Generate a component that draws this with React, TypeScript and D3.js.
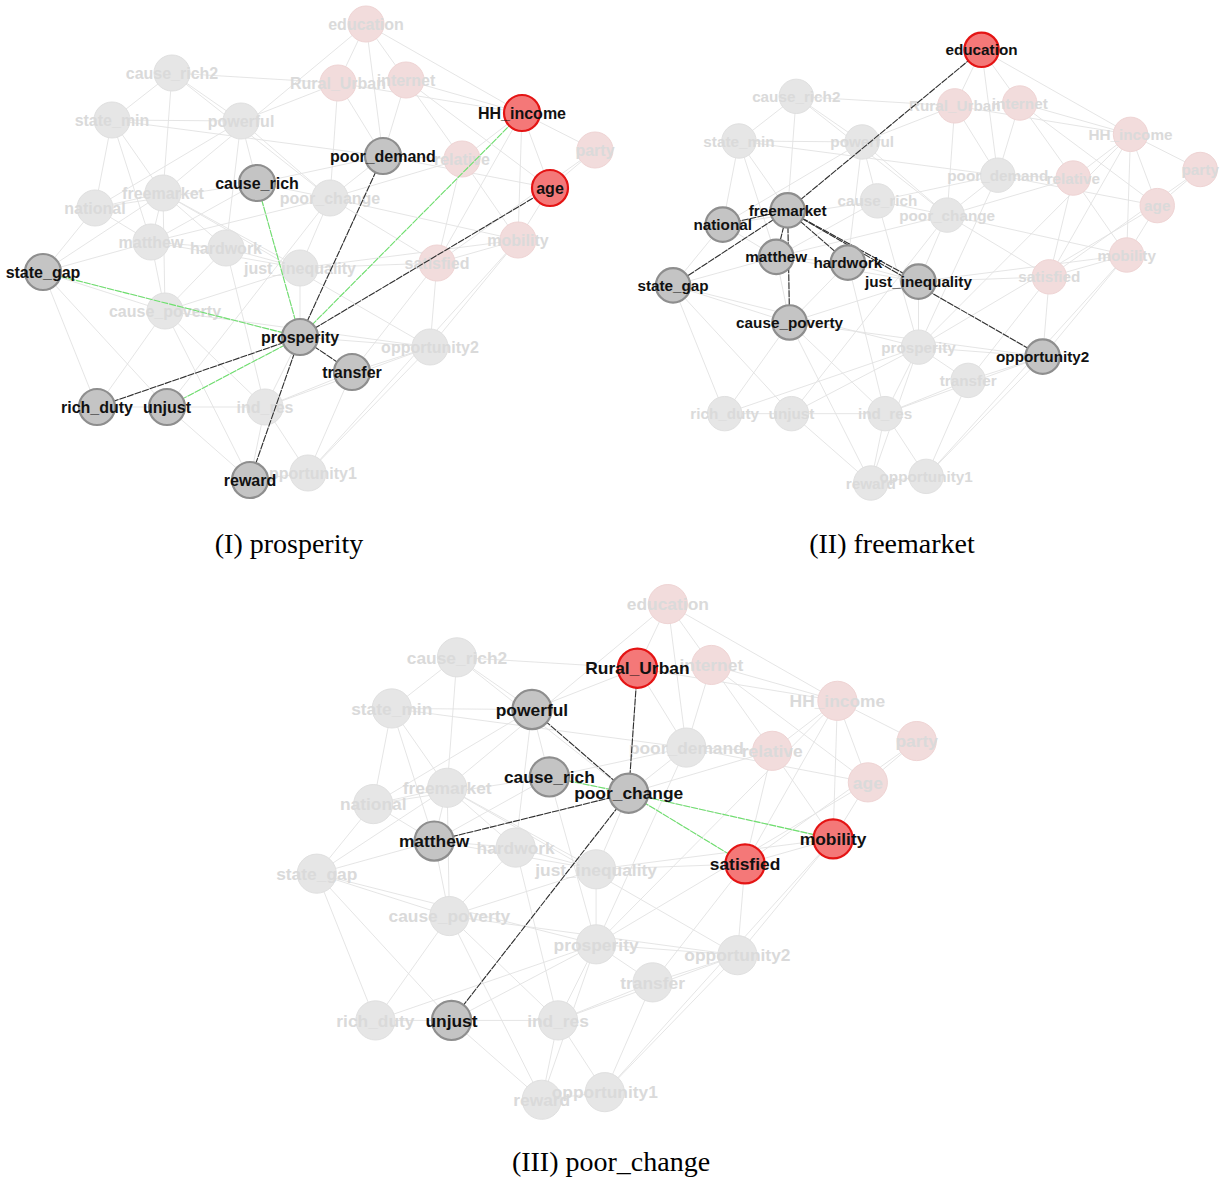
import { useRef, useEffect } from 'react'
import * as d3 from 'd3'

interface NodeDatum {
  id: string
  x: number
  y: number
  group: 'red' | 'gray'
}

// layout coordinates (units of panel I)
const nodes: NodeDatum[] = [
  { id: 'education', x: 366, y: 24, group: 'red' },
  { id: 'cause_rich2', x: 172, y: 73, group: 'gray' },
  { id: 'Rural_Urban', x: 338, y: 83, group: 'red' },
  { id: 'internet', x: 406, y: 80, group: 'red' },
  { id: 'state_min', x: 112, y: 120, group: 'gray' },
  { id: 'powerful', x: 241, y: 121, group: 'gray' },
  { id: 'HH_income', x: 522, y: 113, group: 'red' },
  { id: 'poor_demand', x: 383, y: 156, group: 'gray' },
  { id: 'relative', x: 462, y: 159, group: 'red' },
  { id: 'party', x: 595, y: 150, group: 'red' },
  { id: 'age', x: 550, y: 188, group: 'red' },
  { id: 'cause_rich', x: 257, y: 183, group: 'gray' },
  { id: 'freemarket', x: 163, y: 193, group: 'gray' },
  { id: 'poor_change', x: 330, y: 198, group: 'gray' },
  { id: 'national', x: 95, y: 208, group: 'gray' },
  { id: 'matthew', x: 151, y: 242, group: 'gray' },
  { id: 'hardwork', x: 226, y: 248, group: 'gray' },
  { id: 'mobility', x: 518, y: 240, group: 'red' },
  { id: 'just_inequality', x: 300, y: 268, group: 'gray' },
  { id: 'satisfied', x: 437, y: 263, group: 'red' },
  { id: 'state_gap', x: 43, y: 272, group: 'gray' },
  { id: 'cause_poverty', x: 165, y: 311, group: 'gray' },
  { id: 'prosperity', x: 300, y: 337, group: 'gray' },
  { id: 'opportunity2', x: 430, y: 347, group: 'gray' },
  { id: 'transfer', x: 352, y: 372, group: 'gray' },
  { id: 'rich_duty', x: 97, y: 407, group: 'gray' },
  { id: 'unjust', x: 167, y: 407, group: 'gray' },
  { id: 'ind_res', x: 265, y: 407, group: 'gray' },
  { id: 'reward', x: 250, y: 480, group: 'gray' },
  { id: 'opportunity1', x: 308, y: 473, group: 'gray' },
]

const edges: [string, string][] = [
  ['education', 'Rural_Urban'], ['education', 'internet'], ['education', 'HH_income'],
  ['education', 'freemarket'], ['education', 'poor_demand'], ['cause_rich2', 'Rural_Urban'],
  ['cause_rich2', 'state_min'], ['cause_rich2', 'powerful'], ['cause_rich2', 'freemarket'],
  ['cause_rich2', 'poor_change'], ['state_min', 'powerful'], ['state_min', 'national'],
  ['state_min', 'freemarket'], ['state_min', 'matthew'], ['state_min', 'poor_demand'],
  ['powerful', 'Rural_Urban'], ['powerful', 'cause_rich'], ['powerful', 'hardwork'],
  ['powerful', 'poor_change'], ['powerful', 'national'], ['Rural_Urban', 'HH_income'],
  ['Rural_Urban', 'poor_demand'], ['Rural_Urban', 'poor_change'], ['internet', 'HH_income'],
  ['internet', 'poor_demand'], ['internet', 'relative'], ['internet', 'age'],
  ['HH_income', 'party'], ['HH_income', 'age'], ['HH_income', 'relative'],
  ['HH_income', 'mobility'], ['HH_income', 'prosperity'], ['HH_income', 'satisfied'],
  ['party', 'age'], ['party', 'satisfied'], ['age', 'mobility'], ['age', 'prosperity'],
  ['age', 'poor_demand'], ['relative', 'satisfied'], ['relative', 'mobility'],
  ['relative', 'poor_demand'], ['relative', 'poor_change'], ['poor_demand', 'poor_change'],
  ['poor_demand', 'prosperity'], ['poor_demand', 'cause_rich'], ['cause_rich', 'poor_change'],
  ['cause_rich', 'prosperity'], ['cause_rich', 'national'], ['cause_rich', 'matthew'],
  ['poor_change', 'just_inequality'], ['poor_change', 'matthew'], ['poor_change', 'unjust'],
  ['poor_change', 'satisfied'], ['poor_change', 'mobility'], ['freemarket', 'national'],
  ['freemarket', 'matthew'], ['freemarket', 'hardwork'], ['freemarket', 'just_inequality'],
  ['freemarket', 'state_gap'], ['freemarket', 'cause_poverty'], ['freemarket', 'opportunity2'],
  ['national', 'matthew'], ['national', 'state_gap'], ['matthew', 'hardwork'],
  ['matthew', 'state_gap'], ['matthew', 'cause_poverty'], ['matthew', 'just_inequality'],
  ['hardwork', 'just_inequality'], ['hardwork', 'cause_poverty'], ['hardwork', 'ind_res'],
  ['just_inequality', 'satisfied'], ['just_inequality', 'cause_poverty'],
  ['just_inequality', 'prosperity'], ['just_inequality', 'mobility'],
  ['satisfied', 'opportunity2'], ['satisfied', 'mobility'], ['satisfied', 'transfer'],
  ['mobility', 'opportunity2'], ['mobility', 'opportunity1'], ['state_gap', 'cause_poverty'],
  ['state_gap', 'prosperity'], ['state_gap', 'rich_duty'], ['state_gap', 'unjust'],
  ['cause_poverty', 'rich_duty'], ['cause_poverty', 'ind_res'], ['cause_poverty', 'opportunity2'],
  ['cause_poverty', 'reward'], ['prosperity', 'transfer'], ['prosperity', 'ind_res'],
  ['prosperity', 'rich_duty'], ['prosperity', 'unjust'], ['prosperity', 'reward'],
  ['prosperity', 'opportunity2'], ['opportunity2', 'transfer'], ['opportunity2', 'opportunity1'],
  ['opportunity2', 'ind_res'], ['transfer', 'opportunity1'], ['transfer', 'ind_res'],
  ['rich_duty', 'unjust'], ['unjust', 'ind_res'], ['unjust', 'reward'],
  ['ind_res', 'reward'], ['ind_res', 'opportunity1'], ['reward', 'opportunity1'],
]

// highlighted ego networks: [neighbour, sign]
const prosperityLinks: [string, string][] = [
  ['cause_rich', 'pos'], ['poor_demand', 'neg'], ['HH_income', 'pos'], ['age', 'neg'],
  ['state_gap', 'pos'], ['transfer', 'neg'], ['rich_duty', 'neg'], ['unjust', 'pos'],
  ['reward', 'neg'],
]
const freemarketLinks: [string, string][] = [
  ['education', 'neg'], ['national', 'neg'], ['state_gap', 'neg'], ['matthew', 'neg'],
  ['hardwork', 'neg'], ['just_inequality', 'neg'], ['cause_poverty', 'neg'],
  ['opportunity2', 'neg'],
]
const poorChangeLinks: [string, string][] = [
  ['Rural_Urban', 'neg'], ['powerful', 'neg'], ['cause_rich', 'pos'], ['matthew', 'neg'],
  ['unjust', 'neg'], ['satisfied', 'pos'], ['mobility', 'pos'],
]

const panels = [
  { focus: 'prosperity', links: prosperityLinks, caption: '(I) prosperity', x0: 0, y0: 0, sx: 1, sy: 1, cx: 289, cy: 553 },
  { focus: 'freemarket', links: freemarketLinks, caption: '(II) freemarket', x0: 632, y0: 27, sx: 0.955, sy: 0.95, cx: 892, cy: 553 },
  { focus: 'poor_change', links: poorChangeLinks, caption: '(III) poor_change', x0: 270, y0: 578, sx: 1.087, sy: 1.087, cx: 611, cy: 1171 },
]

const W = 1225
const H = 1184

const App = () => {
  const svgRef = useRef<SVGSVGElement>(null)

  useEffect(() => {
    if (!svgRef.current) return
    const svg = d3.select(svgRef.current)
    svg.selectAll('*').remove()
    const byId = new Map(nodes.map(n => [n.id, n]))

    panels.forEach(p => {
      const x = d3.scaleLinear().domain([0, 600]).range([p.x0, p.x0 + 600 * p.sx])
      const y = d3.scaleLinear().domain([0, 500]).range([p.y0, p.y0 + 500 * p.sy])
      const s = p.sx
      const r = 18 * s
      const fs = 16 * s
      const g = svg.append('g')

      const active = new Set([p.focus, ...p.links.map(l => l[0])])

      // background edges
      g.selectAll('line.bg')
        .data(edges)
        .join('line')
        .attr('class', 'bg')
        .attr('x1', d => x(byId.get(d[0])!.x))
        .attr('y1', d => y(byId.get(d[0])!.y))
        .attr('x2', d => x(byId.get(d[1])!.x))
        .attr('y2', d => y(byId.get(d[1])!.y))
        .attr('stroke', '#e2e2e2')
        .attr('stroke-width', 0.9)

      const faded = nodes.filter(n => !active.has(n.id))
      g.selectAll('circle.faded')
        .data(faded)
        .join('circle')
        .attr('class', 'faded')
        .attr('cx', d => x(d.x))
        .attr('cy', d => y(d.y))
        .attr('r', r)
        .attr('fill', d => (d.group === 'red' ? '#f2dcdc' : '#e6e6e6'))
        .attr('stroke', d => (d.group === 'red' ? '#efd4d4' : '#e0e0e0'))
        .attr('stroke-width', 1)

      g.selectAll('text.faded')
        .data(faded)
        .join('text')
        .attr('class', 'faded')
        .attr('x', d => x(d.x))
        .attr('y', d => y(d.y))
        .attr('dy', '0.36em')
        .attr('text-anchor', 'middle')
        .attr('font-family', 'Liberation Sans, Arial, sans-serif')
        .attr('font-weight', 'bold')
        .attr('font-size', fs)
        .attr('fill', '#dadada')
        .text(d => d.id)

      // ego edges
      const f = byId.get(p.focus)!
      g.selectAll('line.ego')
        .data(p.links)
        .join('line')
        .attr('class', 'ego')
        .attr('x1', x(f.x))
        .attr('y1', y(f.y))
        .attr('x2', d => x(byId.get(d[0])!.x))
        .attr('y2', d => y(byId.get(d[0])!.y))
        .attr('stroke', d => (d[1] === 'pos' ? '#6ee06e' : '#303030'))
        .attr('stroke-width', 1.1)
        .attr('stroke-dasharray', '7,1')

      const hi = nodes.filter(n => active.has(n.id))
      g.selectAll('circle.hi')
        .data(hi)
        .join('circle')
        .attr('class', 'hi')
        .attr('cx', d => x(d.x))
        .attr('cy', d => y(d.y))
        .attr('r', r)
        .attr('fill', d => (d.group === 'red' ? '#f47878' : '#c4c4c4'))
        .attr('stroke', d => (d.group === 'red' ? '#e41414' : '#8e8e8e'))
        .attr('stroke-width', 2.2)

      g.selectAll('text.hi')
        .data(hi)
        .join('text')
        .attr('class', 'hi')
        .attr('x', d => x(d.x))
        .attr('y', d => y(d.y))
        .attr('dy', '0.36em')
        .attr('text-anchor', 'middle')
        .attr('font-family', 'Liberation Sans, Arial, sans-serif')
        .attr('font-weight', 'bold')
        .attr('font-size', fs)
        .attr('fill', '#111')
        .text(d => d.id)

      svg.append('text')
        .attr('x', p.cx)
        .attr('y', p.cy)
        .attr('text-anchor', 'middle')
        .attr('font-family', 'Liberation Serif, Times New Roman, serif')
        .attr('font-size', 28)
        .attr('fill', '#000')
        .text(p.caption)
    })
  }, [])

  return (
    <svg
      ref={svgRef}
      width={W}
      height={H}
      style={{ position: 'absolute', left: 0, top: 0, background: '#fff' }}
    />
  )
}

export default App
